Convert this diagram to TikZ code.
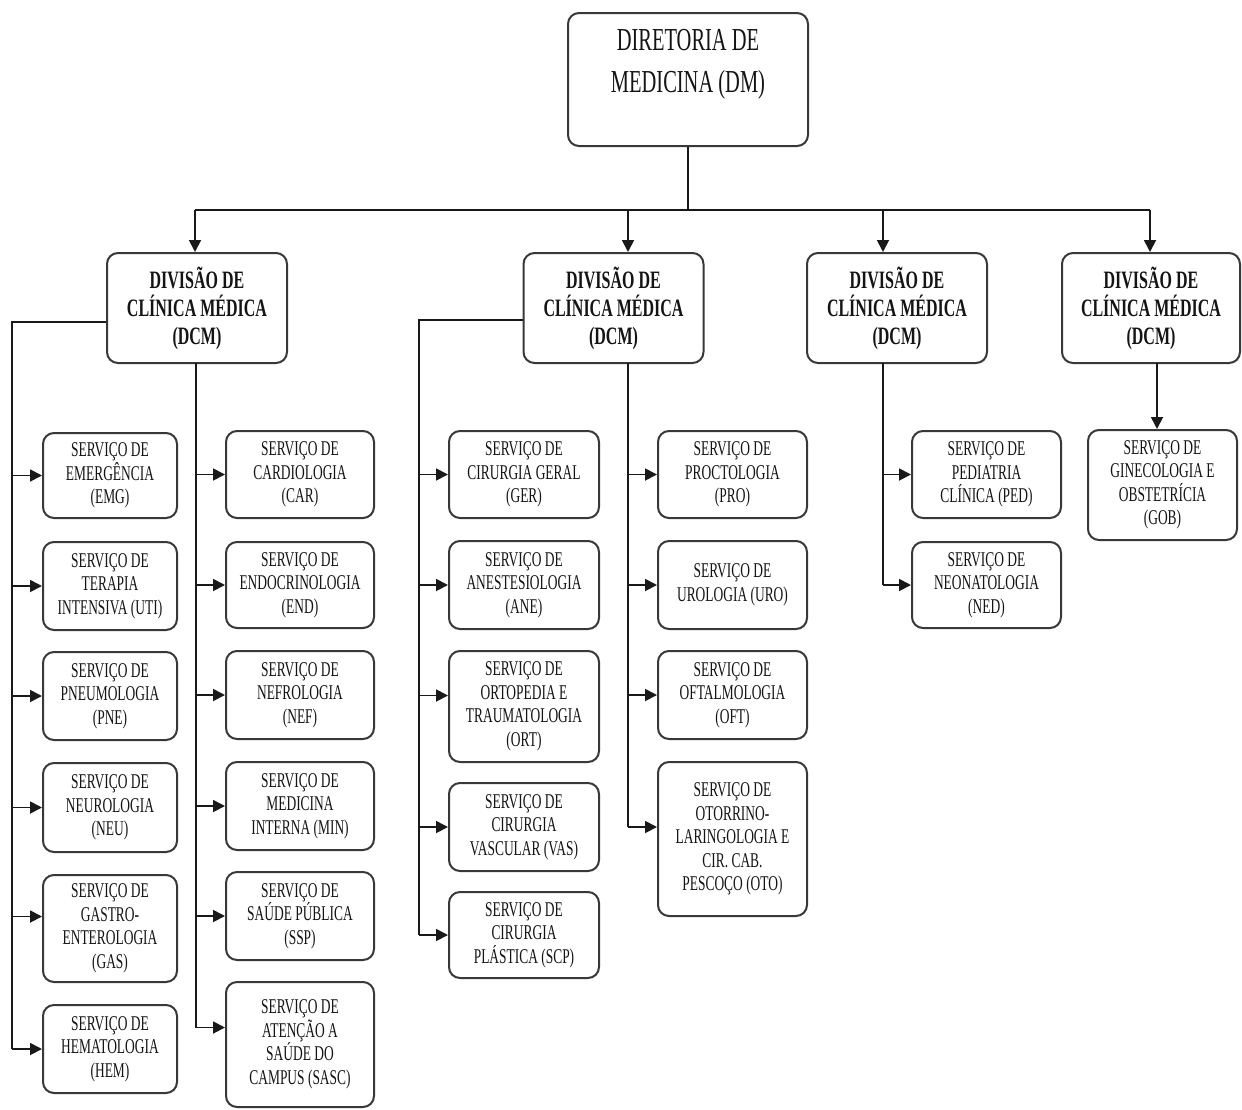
\documentclass[tikz,border=0pt]{standalone}
\usepackage{fontspec}
\setmainfont{Liberation Serif}[FakeStretch=0.64]
\usetikzlibrary{arrows.meta}
\begin{document}
\begin{tikzpicture}[x=1pt,y=-1pt,
  box/.style={draw=black!78, line width=2pt, rounded corners=11pt, fill=white, align=center, inner sep=2pt, text=black!92},
  svc/.style={box, font=\fontsize{21}{23.5}\selectfont},
  c1/.style={svc, minimum width=134},
  c2/.style={svc, minimum width=148},
  c3/.style={svc, minimum width=150},
  c4/.style={svc, minimum width=149},
  divbox/.style={box, font=\bfseries\fontsize{25}{28}\selectfont, minimum width=180, minimum height=110},
  ln/.style={draw=black!90, line width=1.8pt},
  arr/.style={ln, -{Triangle[length=12pt,width=12pt]}}]
\useasboundingbox (0,0) rectangle (1242,1109);

% top
\node[box, minimum width=240, minimum height=133] (dm) at (688,79.5) {};
\node[font=\fontsize{32}{42}\selectfont, align=center, text=black!92] (dmtext) at (688,64) {DIRETORIA DE\\MEDICINA (DM)};

% divisions
\node[divbox] (dcm1) at (197,308) {DIVISÃO DE\\CLÍNICA MÉDICA\\(DCM)};
\node[divbox] (dcm2) at (613.5,308) {DIVISÃO DE\\CLÍNICA MÉDICA\\(DCM)};
\node[divbox] (dcm3) at (897,308) {DIVISÃO DE\\CLÍNICA MÉDICA\\(DCM)};
\node[divbox, minimum width=178] (dcm4) at (1151,308) {DIVISÃO DE\\CLÍNICA MÉDICA\\(DCM)};

% column 1
\node[c1, minimum height=85] (emg) at (110,475.5) {SERVIÇO DE\\EMERGÊNCIA\\(EMG)};
\node[c1, minimum height=88] (uti) at (110,586) {SERVIÇO DE\\TERAPIA\\INTENSIVA (UTI)};
\node[c1, minimum height=88] (pne) at (110,696) {SERVIÇO DE\\PNEUMOLOGIA\\(PNE)};
\node[c1, minimum height=89] (neu) at (110,807.5) {SERVIÇO DE\\NEUROLOGIA\\(NEU)};
\node[c1, minimum height=107] (gas) at (110,928.5) {SERVIÇO DE\\GASTRO-\\ENTEROLOGIA\\(GAS)};
\node[c1, minimum height=88] (hem) at (110,1049) {SERVIÇO DE\\HEMATOLOGIA\\(HEM)};

% column 2
\node[c2, minimum height=87] (car) at (300,474.5) {SERVIÇO DE\\CARDIOLOGIA\\(CAR)};
\node[c2, minimum height=86] (end) at (300,585) {SERVIÇO DE\\ENDOCRINOLOGIA\\(END)};
\node[c2, minimum height=88] (nef) at (300,695) {SERVIÇO DE\\NEFROLOGIA\\(NEF)};
\node[c2, minimum height=88] (min) at (300,806) {SERVIÇO DE\\MEDICINA\\INTERNA (MIN)};
\node[c2, minimum height=88] (ssp) at (300,916) {SERVIÇO DE\\SAÚDE PÚBLICA\\(SSP)};
\node[c2, minimum height=125] (sasc) at (300,1044.5) {SERVIÇO DE\\ATENÇÃO A\\SAÚDE DO\\CAMPUS (SASC)};

% column 3
\node[c3, minimum height=87] (ger) at (524,474.5) {SERVIÇO DE\\CIRURGIA GERAL\\(GER)};
\node[c3, minimum height=88] (ane) at (524,585) {SERVIÇO DE\\ANESTESIOLOGIA\\(ANE)};
\node[c3, minimum height=111] (ort) at (524,706.5) {SERVIÇO DE\\ORTOPEDIA E\\TRAUMATOLOGIA\\(ORT)};
\node[c3, minimum height=88] (vas) at (524,827) {SERVIÇO DE\\CIRURGIA\\VASCULAR (VAS)};
\node[c3, minimum height=86] (scp) at (524,935) {SERVIÇO DE\\CIRURGIA\\PLÁSTICA (SCP)};

% column 4
\node[c4, minimum height=87] (pro) at (732.5,474.5) {SERVIÇO DE\\PROCTOLOGIA\\(PRO)};
\node[c4, minimum height=88] (uro) at (732.5,585) {SERVIÇO DE\\UROLOGIA (URO)};
\node[c4, minimum height=88] (oft) at (732.5,695) {SERVIÇO DE\\OFTALMOLOGIA\\(OFT)};
\node[c4, minimum height=154] (oto) at (732.5,839) {SERVIÇO DE\\OTORRINO-\\LARINGOLOGIA E\\CIR. CAB.\\PESCOÇO (OTO)};

% column 5
\node[c4, minimum height=87] (ped) at (986.5,474.5) {SERVIÇO DE\\PEDIATRIA\\CLÍNICA (PED)};
\node[c4, minimum height=86] (ned) at (986.5,585) {SERVIÇO DE\\NEONATOLOGIA\\(NED)};

% column 6
\node[c4, minimum height=110] (gob) at (1162.5,485) {SERVIÇO DE\\GINECOLOGIA E\\OBSTETRÍCIA\\(GOB)};

% top connectors
\coordinate (bus0) at (688,210);
\coordinate (b1) at (195,210);
\coordinate (b2) at (628,210);
\coordinate (b3) at (883,210);
\coordinate (b4) at (1150,210);
\draw[ln] (dm.south) -- (bus0);
\draw[ln] (b1) -- (b4);
\draw[arr] (b1) -- (b1 |- dcm1.north);
\draw[arr] (b2) -- (b2 |- dcm2.north);
\draw[arr] (b3) -- (b3 |- dcm3.north);
\draw[arr] (b4) -- (b4 |- dcm4.north);

% DCM1 left branch
\coordinate (l1) at (12,322);
\coordinate (gasA) at ([yshift=12pt]gas.west);
\draw[ln] (dcm1.west |- l1) -- (l1) -- (l1 |- hem.west);
\foreach \n in {emg,uti,pne,neu,hem} \draw[arr] (l1 |- \n.west) -- (\n.west);
\draw[arr] (l1 |- gasA) -- (gasA);

% DCM1 right branch
\coordinate (r1) at (196,363);
\coordinate (sascA) at ([yshift=17pt]sasc.west);
\draw[ln] (r1) -- (r1 |- sascA);
\foreach \n in {car,end,nef,min,ssp} \draw[arr] (r1 |- \n.west) -- (\n.west);
\draw[arr] (r1 |- sascA) -- (sascA);

% DCM2 left branch
\coordinate (l2) at (419,320);
\coordinate (ortA) at ([yshift=11pt]ort.west);
\draw[ln] (dcm2.west |- l2) -- (l2) -- (l2 |- scp.west);
\foreach \n in {ger,ane,vas,scp} \draw[arr] (l2 |- \n.west) -- (\n.west);
\draw[arr] (l2 |- ortA) -- (ortA);

% DCM2 right branch
\coordinate (r2) at (628,363);
\coordinate (otoA) at ([yshift=12pt]oto.west);
\draw[ln] (r2) -- (r2 |- otoA);
\foreach \n in {pro,uro,oft} \draw[arr] (r2 |- \n.west) -- (\n.west);
\draw[arr] (r2 |- otoA) -- (otoA);

% DCM3 branch
\coordinate (r3) at (883,363);
\draw[ln] (r3) -- (r3 |- ned.west);
\foreach \n in {ped,ned} \draw[arr] (r3 |- \n.west) -- (\n.west);

% DCM4 branch
\coordinate (r4) at (1157,363);
\draw[arr] (r4) -- (r4 |- gob.north);
\end{tikzpicture}
\end{document}
